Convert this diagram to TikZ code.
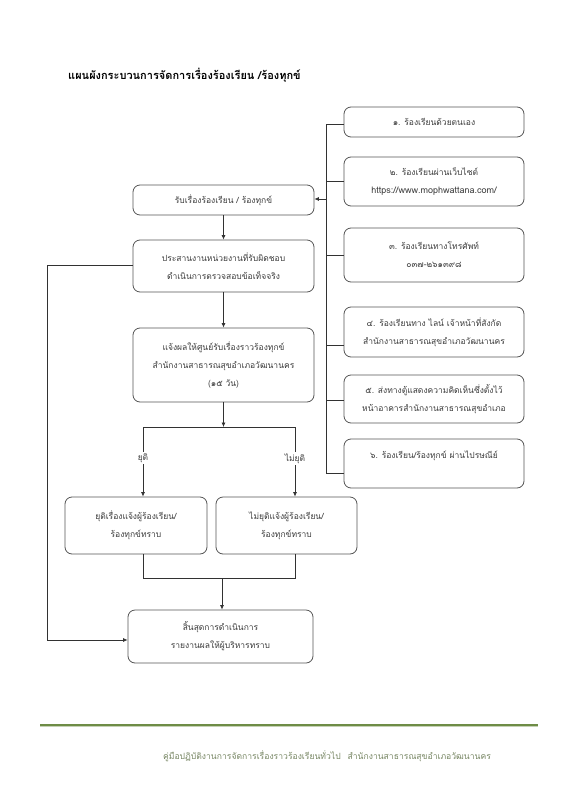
\documentclass[tikz,border=0pt]{standalone}
\usepackage{fontspec}
\newfontfamily\thai[Script=Thai]{Loma}
\usetikzlibrary{arrows.meta}
\definecolor{boxc}{RGB}{85,85,85}
\definecolor{txtc}{RGB}{60,60,60}
\definecolor{linec}{RGB}{50,50,50}
\definecolor{footg}{RGB}{110,140,70}
\definecolor{foottxt}{RGB}{120,135,100}
\tikzset{
  box/.style={draw=boxc, rounded corners=7pt, line width=0.8pt, align=center, inner sep=0pt,
    text=txtc, font=\thai\fontsize{8.5}{18}\selectfont},
  conn/.style={draw=linec, line width=0.7pt},
  arr/.style={conn, -{Latex[length=4.5pt,width=4pt]}},
  lbl/.style={fill=white, inner sep=1.5pt, text=txtc, font=\thai\fontsize{8.5}{10}\selectfont},
}
\begin{document}
\begin{tikzpicture}[x=1pt,y=-1pt]
\useasboundingbox (0,0) rectangle (566,800);
\fill[white] (0,0) rectangle (566,800);
% title
\node[anchor=west, inner sep=0, font=\thai\bfseries\fontsize{11}{13}\selectfont, text=black] (title) at (68,75) {แผนผังกระบวนการจัดการเรื่องร้องเรียน /ร้องทุกข์};
% right boxes
\node[box, minimum width=180pt, minimum height=30pt] (r1) at (434,122) {๑. ร้องเรียนด้วยตนเอง};
\node[box, minimum width=180pt, minimum height=49pt] (r2) at (434,181.5) {๒. ร้องเรียนผ่านเว็บไซต์\\{\fontsize{9}{18}\selectfont https://www.mophwattana.com/}};
\node[box, minimum width=180pt, minimum height=54pt] (r3) at (434,255) {๓. ร้องเรียนทางโทรศัพท์\\๐๓๗-๒๖๑๓๙๘};
\node[box, minimum width=180pt, minimum height=50pt] (r4) at (434,332) {๔. ร้องเรียนทาง ไลน์ เจ้าหน้าที่สังกัด\\สำนักงานสาธารณสุขอำเภอวัฒนานคร};
\node[box, minimum width=180pt, minimum height=48pt] (r5) at (434,399) {๕. ส่งทางตู้แสดงความคิดเห็นซึ่งตั้งไว้\\หน้าอาคารสำนักงานสาธารณสุขอำเภอ};
\node[box, minimum width=180pt, minimum height=49pt] (r6) at (434,463.5) {๖. ร้องเรียน/ร้องทุกข์ ผ่านไปรษณีย์\\\mbox{}};
% left boxes
\node[box, minimum width=181pt, minimum height=30pt] (A) at (223.5,200) {รับเรื่องร้องเรียน / ร้องทุกข์};
\node[box, minimum width=181pt, minimum height=52pt] (B) at (223.5,266) {ประสานงานหน่วยงานที่รับผิดชอบ\\ดำเนินการตรวจสอบข้อเท็จจริง};
\node[box, minimum width=181pt, minimum height=74pt] (C) at (223.5,365) {แจ้งผลให้ศูนย์รับเรื่องราวร้องทุกข์\\สำนักงานสาธารณสุขอำเภอวัฒนานคร\\(๑๕ วัน)};
\node[box, minimum width=142pt, minimum height=57pt] (D) at (136,525.5) {ยุติเรื่องแจ้งผู้ร้องเรียน/\\ร้องทุกข์ทราบ};
\node[box, minimum width=141pt, minimum height=57pt] (E) at (286.5,525.5) {ไม่ยุติแจ้งผู้ร้องเรียน/\\ร้องทุกข์ทราบ};
\node[box, minimum width=185pt, minimum height=53pt] (F) at (220.5,636.5) {สิ้นสุดการดำเนินการ\\รายงานผลให้ผู้บริหารทราบ};
% right collector line
\coordinate (v1) at (326,124);
\coordinate (v2) at (326,181);
\coordinate (va) at (326,199);
\coordinate (v3) at (326,255);
\coordinate (v4) at (326,345);
\coordinate (v5) at (326,400);
\coordinate (v6) at (326,473);
\draw[conn] (v1) -- (v6);
\draw[conn] (v1) -- (v1 -| r1.west);
\draw[conn] (v2) -- (v2 -| r2.west);
\draw[conn] (v3) -- (v3 -| r3.west);
\draw[conn] (v4) -- (v4 -| r4.west);
\draw[conn] (v5) -- (v5 -| r5.west);
\draw[conn] (v6) -- (v6 -| r6.west);
\draw[arr] (va) -- (va -| A.east);
% main flow
\draw[arr] (A) -- (B);
\draw[arr] (B) -- (C);
\coordinate (sp) at (223.5,427);
\coordinate (spl) at (143,427);
\coordinate (spr) at (295,427);
\draw[arr] (C.south) -- (sp);
\draw[conn] (spl) -- (spr);
\draw[arr] (spl) -- node[lbl, pos=0.45] (yl) {ยุติ} (spl |- D.north);
\draw[arr] (spr) -- node[lbl, pos=0.45] (nl) {ไม่ยุติ} (spr |- E.north);
\coordinate (jl) at (143,578);
\coordinate (jr) at (295,578);
\coordinate (jm) at (222,578);
\draw[conn] (jl |- D.south) -- (jl) -- (jr) -- (jr |- E.south);
\draw[arr] (jm) -- (jm |- F.north);
% left loop
\coordinate (lt) at (47,265);
\coordinate (lb) at (47,640);
\draw[arr] (B.west |- lt) -- (lt) -- (lb) -- (lb -| F.west);
% footer
\coordinate (fl) at (40,725);
\coordinate (fr) at (538,725);
\draw[footg, line width=1.3pt] (fl) -- (fr);
\draw[footg!40, line width=0.8pt] ([yshift=-1.5pt]fl) -- ([yshift=-1.5pt]fr);
\node[inner sep=0, font=\thai\fontsize{8.6}{10}\selectfont, text=foottxt] (foot) at (327,756) {คู่มือปฏิบัติงานการจัดการเรื่องราวร้องเรียนทั่วไป\hspace{0.8em}สำนักงานสาธารณสุขอำเภอวัฒนานคร};
\end{tikzpicture}
\end{document}
